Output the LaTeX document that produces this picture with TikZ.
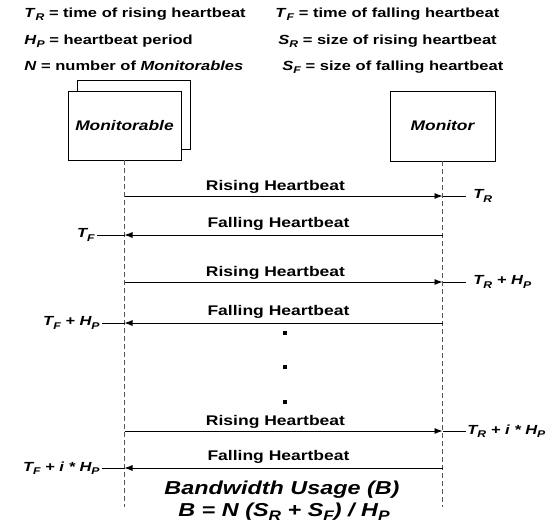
\documentclass[tikz,border=0pt]{standalone}
\usepackage{fontspec}
\setmainfont{Liberation Sans}[FakeStretch=1.25]
\usetikzlibrary{positioning, arrows.meta}
\definecolor{lifegray}{HTML}{555555}

\newcommand{\tsub}[2]{\textit{#1}\raisebox{-0.5ex}{\fontsize{0.74em}{1em}\selectfont\textit{#2}}}

\tikzset{
  entity/.style={draw, fill=white, line width=0.8pt, font=\bfseries\itshape\fontsize{13.9}{16}\selectfont},
  lifeline/.style={draw=lifegray, dashed, dash pattern=on 5pt off 3pt, line width=0.8pt},
  msglabel/.style={midway, above, inner sep=2pt},
  tag/.style={font=\bfseries\itshape\fontsize{13.2}{15}\selectfont, inner sep=2pt},
  legend/.style={anchor=base west, inner sep=2pt, font=\bfseries\fontsize{13.2}{15}\selectfont}
}

\begin{document}
\begin{tikzpicture}[x=1pt, y=-1pt, line width=0.8pt, >={Latex[length=8pt, width=6pt]},
    font=\bfseries\fontsize{14}{16}\selectfont]
  \useasboundingbox (0,0) rectangle (557,531);
  % legend
  \node[legend] (legTR) at (22,17) {\tsub{T}{R} = time of rising heartbeat};
  \node[legend] (legHP) at (22,44) {\tsub{H}{P} = heartbeat period};
  \node[legend] (legN)  at (22,70) {\textit{N} = number of \textit{Monitorables}};
  \node[legend] (legTF) at (273,17) {\tsub{T}{F} = time of falling heartbeat};
  \node[legend] (legSR) at (276,44) {\tsub{S}{R} = size of rising heartbeat};
  \node[legend] (legSF) at (280,70) {\tsub{S}{F} = size of falling heartbeat};

  % the two parties
  \node[entity, minimum width=113, minimum height=69] (mtblback) at (133.5,114.5) {};
  \node[entity, minimum width=113, minimum height=69] (mtbl) at (124.5,125.5) {Monitorable};
  \node[entity, minimum width=105, minimum height=70] (mon) at (442.5,126) {Monitor};
  \coordinate (mtblend) at (mtbl.south |- 0,507);
  \coordinate (monend) at (mon.south |- 0,507);
  \draw[lifeline] (mtbl.south) -- (mtblend);
  \draw[lifeline] (mon.south) -- (monend);

  % rising heartbeats
  \foreach \n/\y/\txt/\gap in {1/196/{\tsub{T}{R}}/7, 2/282/{\tsub{T}{R} + \tsub{H}{P}}/7, 3/431/{\tsub{T}{R} + \textit{i} * \tsub{H}{P}}/1}{
    \coordinate (rl\n) at (mtbl.south |- 0,\y);
    \coordinate (rr\n) at (mon.south |- 0,\y);
    \node[tag, anchor=west, inner xsep=\gap] (rtag\n) at (466,\y) {\txt};
    \draw[->] (rl\n) -- (rr\n) node[msglabel, xshift=-8pt] {Rising Heartbeat};
    \draw (rr\n) -- (rtag\n.west);
  }
  % falling heartbeats
  \foreach \n/\y/\txt/\xe in {1/235/{\tsub{T}{F}}/97, 2/323/{\tsub{T}{F} + \tsub{H}{P}}/102, 3/468/{\tsub{T}{F} + \textit{i} * \tsub{H}{P}}/102}{
    \coordinate (fl\n) at (mtbl.south |- 0,\y);
    \coordinate (fr\n) at (mon.south |- 0,\y);
    \node[tag, anchor=east] (ftag\n) at (\xe,\y) {\txt};
    \draw[->] (fr\n) -- (fl\n) node[msglabel, xshift=-5pt, inner sep=4pt] {Falling Heartbeat};
    \draw (fl\n) -- (ftag\n.east);
  }

  % more periods in between
  \foreach \n/\y in {1/333, 2/367, 3/402}
    \node[fill, inner sep=0pt, minimum size=3.2pt] (dot\n) at (285,\y) {};

  % bandwidth
  \node[anchor=base, font=\bfseries\itshape\fontsize{18.7}{21}\selectfont] (bw) at (282,494) {Bandwidth Usage (B)};
  \node[anchor=base, font=\bfseries\itshape\fontsize{18.7}{21}\selectfont] (bweq) at (284,516)
    {B = N (\tsub{S}{R} + \tsub{S}{F}) / \tsub{H}{P}};
\end{tikzpicture}
\end{document}
